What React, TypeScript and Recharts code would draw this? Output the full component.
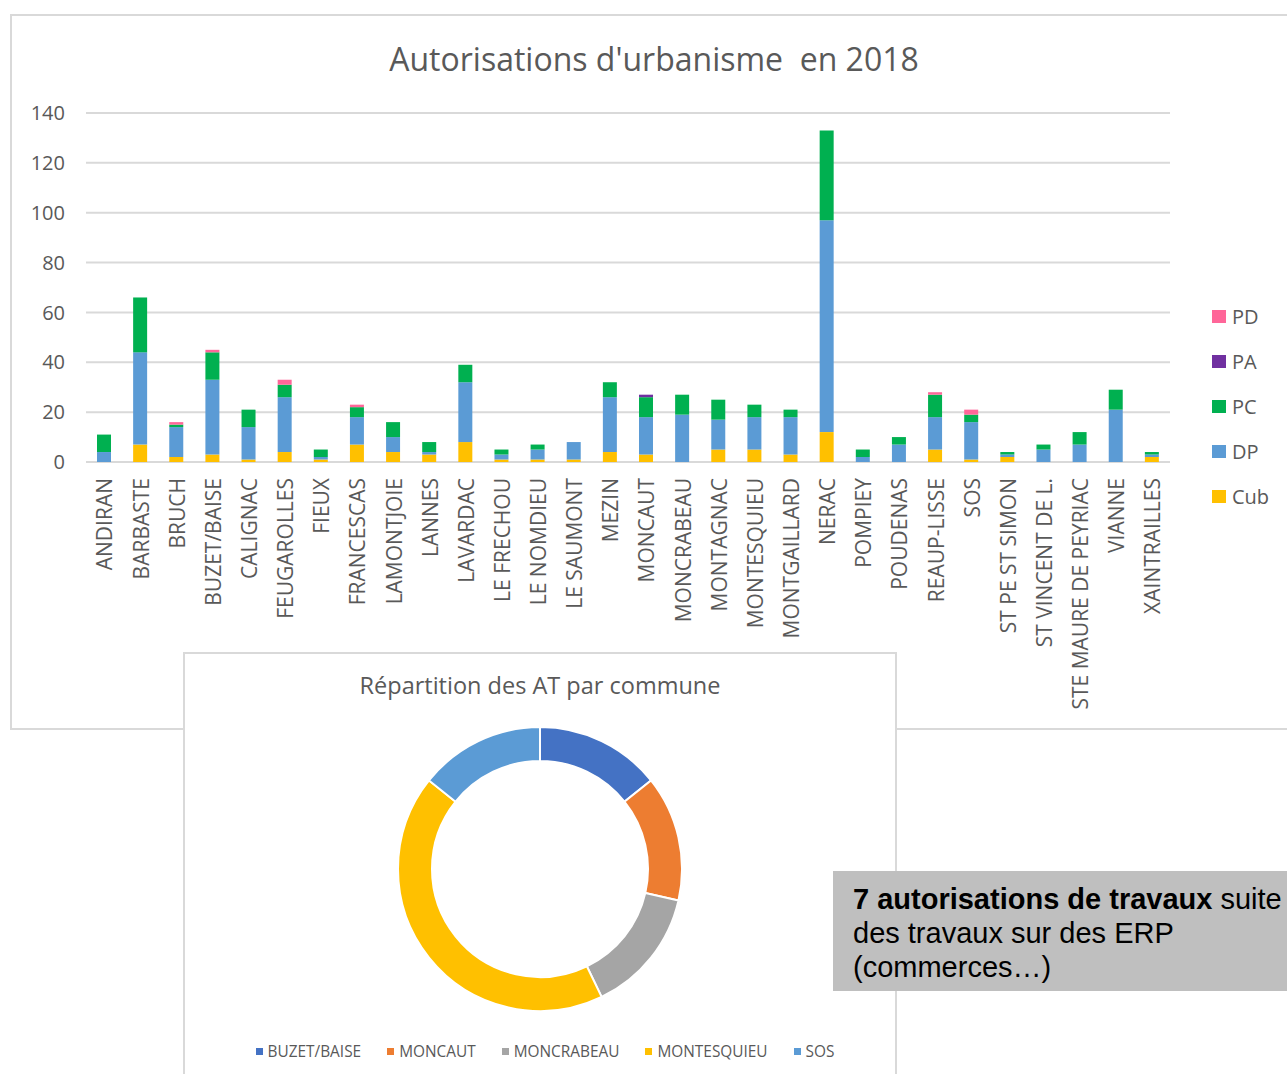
import React from "react";
import {
  BarChart,
  Bar,
  XAxis,
  YAxis,
  CartesianGrid,
  PieChart,
  Pie,
  Cell,
} from "recharts";

const communes = [
  "ANDIRAN", "BARBASTE", "BRUCH", "BUZET/BAISE", "CALIGNAC", "FEUGAROLLES",
  "FIEUX", "FRANCESCAS", "LAMONTJOIE", "LANNES", "LAVARDAC", "LE FRECHOU",
  "LE NOMDIEU", "LE SAUMONT", "MEZIN", "MONCAUT", "MONCRABEAU", "MONTAGNAC",
  "MONTESQUIEU", "MONTGAILLARD", "NERAC", "POMPIEY", "POUDENAS", "REAUP-LISSE",
  "SOS", "ST PE ST SIMON", "ST VINCENT DE L.", "STE MAURE DE PEYRIAC", "VIANNE",
  "XAINTRAILLES",
];

const cub = [0, 7, 2, 3, 1, 4, 1, 7, 4, 3, 8, 1, 1, 1, 4, 3, 0, 5, 5, 3, 12, 0, 0, 5, 1, 2, 0, 0, 0, 2];
const dp = [4, 37, 12, 30, 13, 22, 1, 11, 6, 1, 24, 2, 4, 7, 22, 15, 19, 12, 13, 15, 85, 2, 7, 13, 15, 1, 5, 7, 21, 1];
const pc = [7, 22, 1, 11, 7, 5, 3, 4, 6, 4, 7, 2, 2, 0, 6, 8, 8, 8, 5, 3, 36, 3, 3, 9, 3, 1, 2, 5, 8, 1];
const pa = [0, 0, 0, 0, 0, 0, 0, 0, 0, 0, 0, 0, 0, 0, 0, 1, 0, 0, 0, 0, 0, 0, 0, 0, 0, 0, 0, 0, 0, 0];
const pd = [0, 0, 1, 1, 0, 2, 0, 1, 0, 0, 0, 0, 0, 0, 0, 0, 0, 0, 0, 0, 0, 0, 0, 1, 2, 0, 0, 0, 0, 0];

const yTicks = [0, 20, 40, 60, 80, 100, 120, 140];

// stacked bottom to top
const series = [
  { key: "Cub", color: "#FFC000" },
  { key: "DP", color: "#5B9BD5" },
  { key: "PC", color: "#00B050" },
  { key: "PA", color: "#7030A0" },
  { key: "PD", color: "#FF6699" },
];

const atCommunes = ["BUZET/BAISE", "MONCAUT", "MONCRABEAU", "MONTESQUIEU", "SOS"];
const atCounts = [1, 1, 1, 3, 1];
const atColors = ["#4472C4", "#ED7D31", "#A5A5A5", "#FFC000", "#5B9BD5"];

const barData = communes.map((name, i) => ({
  name,
  Cub: cub[i],
  DP: dp[i],
  PC: pc[i],
  PA: pa[i],
  PD: pd[i],
}));

const pieData = atCommunes.map((name, i) => ({ name, value: atCounts[i] }));

const FONT = "'Open Sans', sans-serif";
const GREY = "#595959";

const CommuneTick = (props: any) => {
  const { x, y, payload } = props;
  const ty = y + 8;
  return (
    <text
      x={x}
      y={ty}
      transform={`rotate(-90, ${x}, ${ty})`}
      textAnchor="end"
      dy="0.4em"
      fill={GREY}
      fontSize={21}
      fontFamily={FONT}
    >
      {payload.value}
    </text>
  );
};

export default function App() {
  return (
    <div
      style={{
        position: "absolute",
        left: 0,
        top: 0,
        width: 1287,
        height: 1074,
        overflow: "hidden",
        background: "#fff",
      }}
    >
      {/* frame of the bar chart */}
      <div
        style={{
          position: "absolute",
          left: 10,
          top: 14,
          width: 1290,
          height: 716,
          border: "2px solid #d9d9d9",
          boxSizing: "border-box",
        }}
      />
      <div
        style={{
          position: "absolute",
          left: 354,
          top: 37,
          width: 600,
          textAlign: "center",
          fontFamily: FONT,
          fontSize: 32,
          color: GREY,
          whiteSpace: "pre",
        }}
      >
        {"Autorisations d'urbanisme  en 2018"}
      </div>
      <div style={{ position: "absolute", left: 10, top: 14 }}>
        <BarChart
          width={1277}
          height={716}
          data={barData}
          margin={{ top: 99, right: 117, bottom: 68, left: 0 }}
          barSize={14}
        >
          <CartesianGrid vertical={false} stroke="#d9d9d9" strokeWidth={2} />
          <XAxis
            dataKey="name"
            interval={0}
            axisLine={false}
            tickLine={false}
            height={200}
            tick={<CommuneTick />}
          />
          <YAxis
            width={76}
            domain={[0, 140]}
            ticks={yTicks}
            interval={0}
            axisLine={false}
            tickLine={false}
            tickMargin={15}
            tick={{ fill: GREY, fontSize: 20, fontFamily: FONT }}
          />
          {series.map((s) => (
            <Bar key={s.key} dataKey={s.key} stackId="a" fill={s.color} isAnimationActive={false} />
          ))}
        </BarChart>
      </div>
      {/* legend, top entry first */}
      <div
        style={{
          position: "absolute",
          left: 1212,
          top: 294,
          fontFamily: FONT,
          color: GREY,
          fontSize: 20,
        }}
      >
        {[...series].reverse().map((s) => (
          <div key={s.key} style={{ height: 45, display: "flex", alignItems: "center" }}>
            <span
              style={{ width: 14, height: 13, background: s.color, display: "inline-block", marginRight: 6 }}
            />
            <span>{s.key}</span>
          </div>
        ))}
      </div>

      {/* donut chart */}
      <div
        style={{
          position: "absolute",
          left: 183,
          top: 652,
          width: 714,
          height: 440,
          background: "#fff",
          border: "2px solid #d9d9d9",
          boxSizing: "border-box",
        }}
      />
      <div
        style={{
          position: "absolute",
          left: 183,
          top: 669,
          width: 714,
          textAlign: "center",
          fontFamily: FONT,
          fontSize: 23.5,
          color: GREY,
        }}
      >
        Répartition des AT par commune
      </div>
      <div style={{ position: "absolute", left: 183, top: 652 }}>
        <PieChart width={714} height={380}>
          <Pie
            data={pieData}
            dataKey="value"
            nameKey="name"
            cx={352}
            cy={212}
            innerRadius={108}
            outerRadius={142}
            startAngle={90}
            endAngle={-270}
            stroke="#fff"
            strokeWidth={2}
            isAnimationActive={false}
          >
            {pieData.map((_, i) => (
              <Cell key={i} fill={atColors[i]} />
            ))}
          </Pie>
        </PieChart>
      </div>
      <div
        style={{
          position: "absolute",
          left: 188,
          top: 1041,
          width: 714,
          display: "flex",
          justifyContent: "center",
          gap: 26,
          fontFamily: FONT,
          fontSize: 15.4,
          color: GREY,
        }}
      >
        {atCommunes.map((name, i) => (
          <div key={name} style={{ display: "flex", alignItems: "center" }}>
            <span
              style={{ width: 7, height: 7, background: atColors[i], display: "inline-block", marginRight: 5 }}
            />
            <span>{name}</span>
          </div>
        ))}
      </div>

      {/* note box */}
      <div
        style={{
          position: "absolute",
          left: 833,
          top: 871,
          width: 470,
          height: 120,
          background: "#BFBFBF",
          boxSizing: "border-box",
          padding: "11px 0 0 20px",
          fontFamily: "'Liberation Sans', Arial, sans-serif",
          fontSize: 29,
          lineHeight: "34px",
          color: "#000",
          whiteSpace: "nowrap",
        }}
      >
        <b>7 autorisations de travaux</b> suite
        <br />
        des travaux sur des ERP
        <br />
        (commerces…)
      </div>
    </div>
  );
}
